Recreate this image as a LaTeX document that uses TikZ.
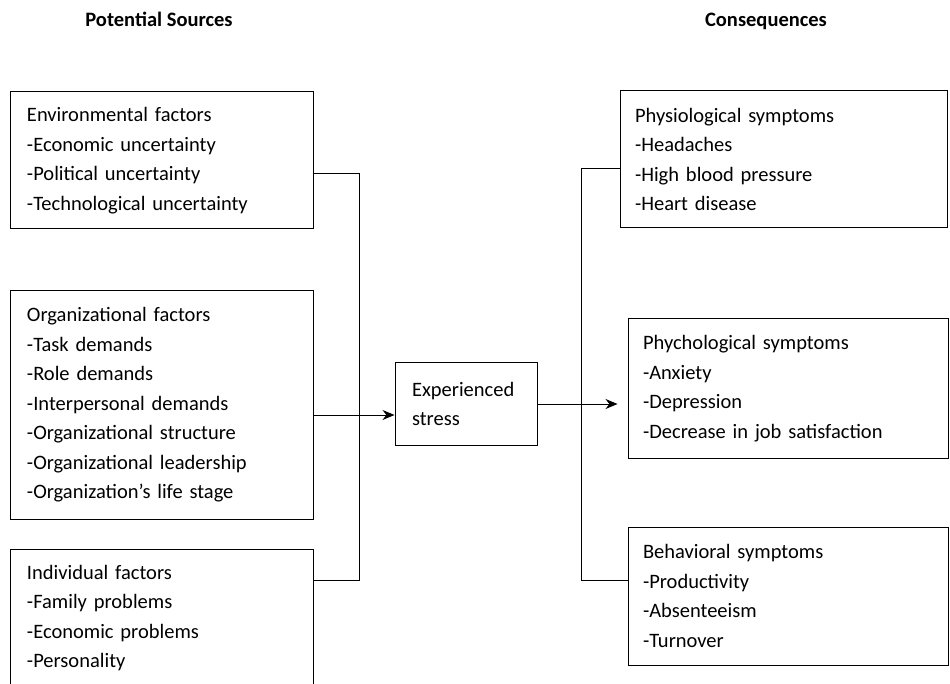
\documentclass[tikz,border=0pt]{standalone}
\usepackage{fontspec}
\setmainfont{Carlito}
\usetikzlibrary{positioning,arrows.meta}

\begin{document}
\begin{tikzpicture}[x=1pt,y=-1pt,
    >={Stealth[length=12pt,width=10pt]},
    every node/.style={font=\fontsize{20.5}{29.5}\selectfont},
    box/.style={draw, line width=1pt, align=left, inner ysep=0pt},
    title/.style={font=\fontsize{20.5}{24}\selectfont\bfseries, anchor=base}]
  \useasboundingbox (0,0) rectangle (950,684);

  \node[title] (src) at (159,27) {Potential Sources};
  \node[title] (cons) at (766,27) {Consequences};

  \node[box, inner xsep=17pt, text width=269pt, minimum height=137pt] (env) at (161.5,160.5)
    {Environmental factors\\-Economic uncertainty\\-Political uncertainty\\-Technological uncertainty};
  \node[box, inner xsep=17pt, text width=269pt, minimum height=228pt] (org) at (161.5,405)
    {Organizational factors\\-Task demands\\-Role demands\\-Interpersonal demands\\-Organizational structure\\-Organizational leadership\\-Organization’s life stage};
  \node[box, inner xsep=17pt, text width=269pt, minimum height=138pt] (ind) at (161.5,618)
    {Individual factors\\-Family problems\\-Economic problems\\-Personality};

  \node[box, inner xsep=17pt, text width=108pt, minimum height=82pt] (stress) at (466,404)
    {Experienced\\stress};

  \node[box, inner xsep=15pt, text width=297pt, minimum height=137pt] (physio) at (783.5,159.5)
    {Physiological symptoms\\-Headaches\\-High blood pressure\\-Heart disease};
  \node[box, inner xsep=15pt, text width=290pt, minimum height=139pt] (psych) at (788,388.5)
    {Phychological symptoms\\-Anxiety\\-Depression\\-Decrease in job satisfaction};
  \node[box, inner xsep=15pt, text width=290pt, minimum height=138pt] (behav) at (788,596)
    {Behavioral symptoms\\-Productivity\\-Absenteeism\\-Turnover};

  % junction points
  \coordinate (ltop) at (359,174);
  \coordinate (lbot) at (359,580);
  \coordinate (rtop) at (581,169);
  \coordinate (rbot) at (581,580);
  \coordinate (rmid) at (581,404);
  \coordinate (inarr) at ([yshift=-11pt]stress.west);

  \draw[line width=1pt] (ltop -| env.east) -- (ltop) -- (lbot) -- (lbot -| ind.east);
  \draw[line width=1pt,->] (inarr -| org.east) -- (inarr);

  \draw[line width=1pt] (physio.west |- rtop) -- (rtop) -- (rbot) -- (rbot -| behav.west);
  \draw[line width=1pt] (stress.east) -- (rmid);
  \draw[line width=1pt,->,shorten >=10pt] (rmid) -- (rmid -| psych.west);
\end{tikzpicture}
\end{document}
